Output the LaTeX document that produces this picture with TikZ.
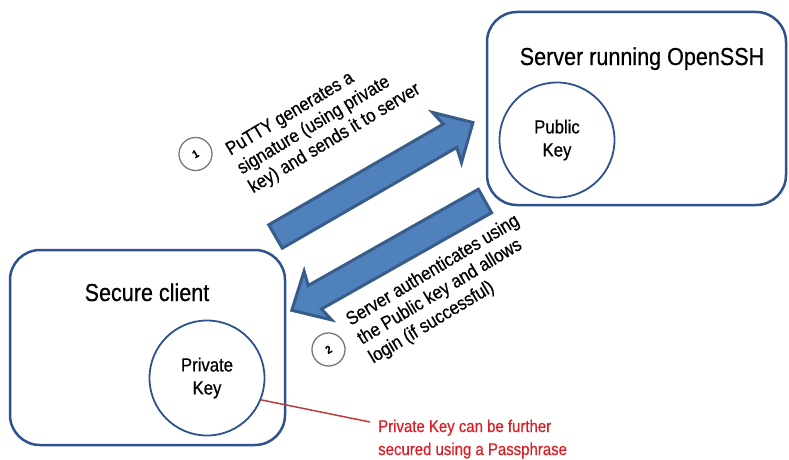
\documentclass[tikz,border=0pt]{standalone}
\usepackage{fontspec}
\setmainfont{Liberation Sans}[FakeStretch=0.88, FakeBold=0.6]
\usepackage{xcolor}
\usetikzlibrary{positioning,calc}
\definecolor{boxblue}{RGB}{47,82,143}
\definecolor{arrowfill}{RGB}{79,129,189}
\definecolor{arrowline}{RGB}{56,93,138}
\definecolor{notered}{RGB}{222,30,38}
\definecolor{linered}{RGB}{192,60,60}
\definecolor{numgray}{RGB}{120,120,120}

\begin{document}
\begin{tikzpicture}[x=1pt, y=-1pt,
    hostbox/.style={rectangle, draw=boxblue, line width=2.5pt, rounded corners=30pt},
    hosttitle/.style={anchor=base, inner sep=0pt, font=\fontsize{24.5}{28}\selectfont},
    keycircle/.style={circle, draw=boxblue, line width=1.8pt, minimum size=115pt, inner sep=0pt, align=center, font=\fontsize{19}{23}\selectfont},
    bigarrow/.style={draw=arrowline, fill=arrowfill, line width=3pt, line join=miter},
    stepnum/.style={circle, draw=numgray, line width=1.3pt, minimum size=33pt, inner sep=0pt, rotate=30, font=\fontsize{11}{11}\selectfont\bfseries},
    steptext/.style={anchor=west, rotate=31, align=left, inner sep=0pt, font=\fontsize{19}{22}\selectfont}
]
\useasboundingbox (0,0) rectangle (789,460);

% hosts
\node[hostbox, minimum width=299pt, minimum height=193pt] (server) at (636.5,108.5) {};
\node[hostbox, minimum width=275pt, minimum height=195pt] (client) at (147.5,347.5) {};
\node[hosttitle] (servertitle) at (642,65) {Server running OpenSSH};
\node[hosttitle] (clienttitle) at (147,301) {Secure client};

% keys
\node[keycircle] (pubkey) at (557,140) {Public\\Key};
\node[keycircle] (privkey) at (207,378) {Private\\Key};

% big arrows
\coordinate (sendtail) at (275.5,236.5);
\coordinate (replytail) at (485,201);
\begin{scope}[shift={(sendtail)}, rotate=30]
  \draw[bigarrow] (0,-13.5) -- (201.5,-13.5) -- (198,-29) -- (228,0) -- (198,29) -- (201.5,13.5) -- (0,13.5) -- cycle;
\end{scope}
\begin{scope}[shift={(replytail)}, rotate=209.5]
  \draw[bigarrow] (0,-13.5) -- (195.5,-13.5) -- (192,-28) -- (222,0) -- (192,28) -- (195.5,13.5) -- (0,13.5) -- cycle;
\end{scope}

% steps
\node[stepnum] (one) at (195.5,154) {1};
\node[stepnum] (two) at (328.5,349.5) {2};
\node[steptext] (sendtext) at (239.4,170.7) {PuTTY generates a\\signature (using private\\key) and sends it to server};
\node[steptext] (replytext) at (359.4,340.7) {Server authenticates using\\the Public key and allows\\login (if successful)};

% passphrase note
\node[anchor=north west, align=left, inner sep=0pt, text=notered, font=\fontsize{17}{23}\selectfont] (note) at (378,419.5) {Private Key can be further\\secured using a Passphrase};
\coordinate (notetip) at (370,422);
\draw[linered, line width=1.5pt] (privkey.-22) -- (notetip);
\end{tikzpicture}
\end{document}
